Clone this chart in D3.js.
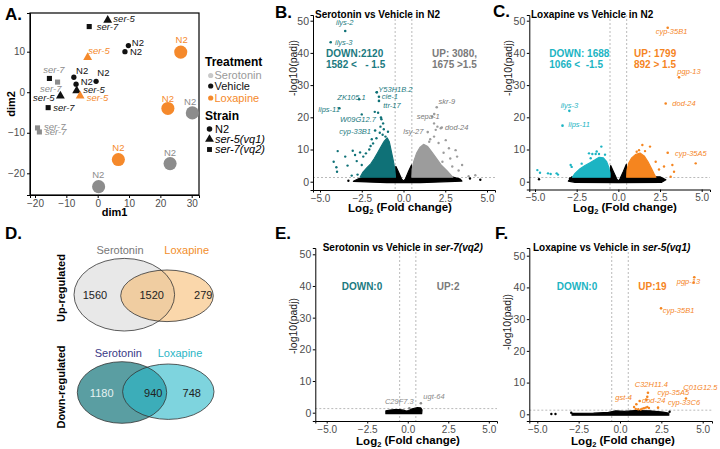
<!DOCTYPE html>
<html>
<head>
<meta charset="utf-8">
<script src="https://cdn.jsdelivr.net/npm/d3@7"></script>
<style>
    body { margin:0; background:#fff; }
    svg  { display:block; font-family:"Liberation Sans", Arial, sans-serif; }
</style>
</head>
<body>
<svg id="fig" width="720" height="449"></svg>
<script>
(function( w ) {

"use strict";

/* ---------- A. PCA ---------- */
var pcaSamples = [
        /* dim1, dim2, treatment, strain */
        [  3.2,  17.8, "Vehicle",   "ser-5" ],
        [ -2.7,  16.2, "Vehicle",   "ser-7" ],
        [  9.8,  11.5, "Vehicle",   "N2"    ],
        [  8.7,  10.0, "Vehicle",   "N2"    ],
        [ -3.2,   8.6, "Loxapine",  "ser-5" ],
        [-15.4,   3.4, "Vehicle",   "ser-7" ],
        [-12.8,   2.5, "Serotonin", "ser-7" ],
        [ -7.6,   3.7, "Vehicle",   "N2"    ],
        [ -6.9,   2.0, "Vehicle",   "N2"    ],
        [ -0.5,   2.7, "Vehicle",   "N2"    ],
        [ -6.7,   0.4, "Vehicle",   "ser-5" ],
        [-11.9,  -0.9, "Vehicle",   "ser-5" ],
        [ -5.6,  -0.9, "Loxapine",  "ser-5" ],
        [-15.8,  -3.8, "Vehicle",   "ser-7" ],
        [-19.2,  -8.8, "Serotonin", "ser-7" ],
        [-18.6,  -9.8, "Serotonin", "ser-7" ],
        [ 26.5,   9.9, "Loxapine",  "N2"    ],
        [ 22.4,  -4.0, "Loxapine",  "N2"    ],
        [ 30.2,  -5.1, "Serotonin", "N2"    ],
        [  6.6, -16.6, "Loxapine",  "N2"    ],
        [ 23.1, -17.6, "Serotonin", "N2"    ],
        [  0.3, -23.3, "Serotonin", "N2"    ]
    ],
    pcaLabels = [
        /* text, dim1, dim2, treatment */
        [ "ser-5",   5.0,  18.1, "Vehicle"   ],
        [ "ser-7",  -0.3,  16.2, "Vehicle"   ],
        [ "N2",     10.9,  12.2, "Vehicle"   ],
        [ "N2",     10.3,  10.0, "Vehicle"   ],
        [ "ser-5",  -3.0,  10.2, "Loxapine"  ],
        [ "N2",     26.8,  12.9, "Loxapine"  ],
        [ "ser-7", -17.4,   5.5, "Serotonin" ],
        [ "N2",     -6.9,   5.3, "Vehicle"   ],
        [ "N2",     -0.1,   4.8, "Vehicle"   ],
        [ "N2",     -5.4,   2.7, "Vehicle"   ],
        [ "ser-7", -18.4,   1.0, "Serotonin" ],
        [ "ser-5",  -4.6,   0.7, "Vehicle"   ],
        [ "ser-5", -20.6,  -1.3, "Vehicle"   ],
        [ "ser-5",  -3.5,  -1.3, "Loxapine"  ],
        [ "ser-7", -14.2,  -3.8, "Vehicle"   ],
        [ "ser-7", -17.1,  -8.4, "Serotonin" ],
        [ "ser-7", -16.8,  -9.8, "Serotonin" ],
        [ "N2",     22.4,  -1.5, "Loxapine"  ],
        [ "N2",     29.5,  -2.4, "Serotonin" ],
        [ "N2",      6.6, -13.7, "Loxapine"  ],
        [ "N2",     23.1, -15.0, "Serotonin" ],
        [ "N2",      0.2, -20.4, "Serotonin" ]
    ],
    pcaXTicks = [ -20, -10, 0, 10, 20, 30 ],
    pcaYTicks = [ -20, -10, 0, 10 ],
    treatments = [ "Serotonin", "Vehicle", "Loxapine" ],
    strains = [ "N2", "ser-5", "ser-7" ],
    strainNames = [ "N2", "ser-5(vq1)", "ser-7(vq2)" ],

/* ---------- D. Venn ---------- */
    vennSets = [ "Serotonin", "Loxapine" ],
    vennUp = [ 1560, 1520, 279 ],      // sero only, both, lox only
    vennDown = [ 1180, 940, 748 ],

/* ---------- volcano shared ---------- */
    fcTicks = [ -5, -2.5, 0, 2.5, 5 ],
    padjTicks = [ 0, 10, 20, 30, 40, 50 ],
    fcCut = 0.5,
    padjCut = 1.3,

/* ---------- B. Serotonin vs Vehicle in N2 ---------- */
    bDownCloud = [[-2.6,1.4],[-2.45,2.8],[-2.2,4.3],[-1.95,5.6],[-1.75,7.2],[-1.55,9],[-1.35,10.8],
                  [-1.15,12.6],[-0.98,13.6],[-0.85,12.4],[-0.72,9.2],[-0.6,6.2],[-0.52,3.8],[-0.48,1.4]],
    bUpCloud = [[0.5,1.4],[0.52,3.8],[0.62,6.4],[0.78,8.8],[0.98,10.6],[1.2,11.6],[1.45,10.9],
                [1.7,9.2],[1.95,7.4],[2.25,5.2],[2.6,3.4],[2.95,1.4]],
    bNsCloud = [[-3.0,0.1],[-2.7,0.9],[-2.3,1.5],[-0.5,1.6],[-0.46,4.8],[-0.3,3.0],[-0.12,0.9],[0,0.15],
                [0.12,0.9],[0.3,3.2],[0.48,5.2],[0.52,1.6],[2.9,1.5],[3.4,0.8],[3.5,0.2],[1.0,-0.3],[-1.0,-0.3]],
    bDownPts = [[-4.18,6.2],[-4.02,4.5],[-3.98,3.1],[-3.94,9.5],[-3.49,7.8],[-3.35,5.0],[-3.04,9.6],[-2.9,8.3],
                [-2.8,6.4],[-2.6,9.1],[-2.5,5.2],[-2.41,7.8],[-2.25,8.8],[-2.05,10],[-1.97,11.1],[-1.82,11.9],
                [-1.62,13.5],[-1.42,15.2],[-1.38,17.1],[-2.5,20.9],[-1.72,21.7],[-1.52,21.4],[-1.32,19.4],
                [-1.22,18.1],[-1.08,14],[-0.93,15.5],[-1.18,16.3],[-2.2,3.2],[-2.75,2.2],[-3.1,1.9],
                [-1.9,13.2],[-1.25,14.6],[-1.6,27.8]],
    bUpPts = [[1.54,12.4],[1.83,14],[1.93,16.1],[2.03,17.1],[1.83,18.1],[2.23,16.6],[2.53,12.9],[2.72,10.4],
              [3.12,9.8],[3.21,7.8],[3.51,5.2],[2.33,6.2],[2.92,4.7],[1.73,20.2],[1.6,13.2],[2.1,12],
              [2.4,9],[3.3,3.5],[2.8,7.2],[4.3,2.0],[3.9,1.7]],
    bNsPts = [[3.98,1.0],[4.6,0.6],[-3.3,0.3]],
    bGenes = [
        /* gene, log2fc, -log10padj, label x, label y, direction */
        [ "ilys-2",   -3.49, 46.8, -4.04, 48.7, "down" ],
        [ "ilys-3",   -4.36, 43.3, -4.10, 42.5, "down" ],
        [ "Y53H1B.2", -1.60, 27.8, -1.51, 27.9, "down" ],
        [ "cie-1",    -1.47, 26.4, -1.30, 25.7, "down" ],
        [ "ttr-17",   -1.47, 25.1, -1.21, 22.9, "down" ],
        [ "ZK105.1",  -2.66, 25.6, -3.96, 25.4, "down" ],
        [ "lips-11",  -3.84, 22.8, -5.10, 21.7, "down" ],
        [ "W09G12.7", -1.35, 19.9, -3.80, 18.6, "down" ],
        [ "cyp-33B1", -1.70, 15.9, -3.84, 14.8, "down" ],
        [ "skr-9",     1.99, 23.1,  2.10, 24.2, "up" ],
        [ "sepa-1",    1.84, 21.0,  0.79, 19.5, "up" ],
        [ "dod-24",    2.29, 16.8,  2.49, 16.1, "up" ],
        [ "lsy-27",    1.45, 15.4, -0.01, 14.8, "up" ]
    ],
    bCounts = [ [ "DOWN:2120", "1582 <   - 1.5" ], [ "UP: 3080,", "1675 >1.5" ] ],

/* ---------- C. Loxapine vs Vehicle in N2 ---------- */
    cDownCloud = [[-2.75,1.4],[-2.6,2.6],[-2.3,4.0],[-2.0,5.0],[-1.7,5.9],[-1.4,6.8],[-1.15,7.6],
                  [-0.9,7.4],[-0.7,6.2],[-0.58,4.6],[-0.5,2.6],[-0.5,1.4]],
    cUpCloud = [[0.5,1.4],[0.52,3.6],[0.62,5.8],[0.8,7.4],[1.02,8.4],[1.3,8.9],[1.55,8.0],[1.78,6.2],
                [1.98,4.2],[2.15,2.4],[2.25,1.4]],
    cNsCloud = [[-3.0,0.2],[-2.8,1.5],[-0.5,1.6],[-0.46,5.0],[-0.3,3.2],[-0.1,0.9],[0,0.2],[0.1,0.9],
                [0.3,3.2],[0.48,5.4],[0.52,1.6],[2.5,1.5],[2.85,0.6],[2.6,-0.2],[0,-0.3],[-2.6,-0.2]],
    cDownPts = [[-4.86,3.6],[-4.7,2.8],[-4.22,2.6],[-4.06,2.4],[-3.7,2.6],[-3.62,2.2],[-2.86,5.2],[-2.8,4.6],
                [-1.76,8.8],[-1.56,8.6],[-1.36,8.6],[-1.16,8.6],[-1.02,10.9],[-1.66,7.3],[-2.2,5.6],
                [-0.8,8.4],[-1.3,9.4]],
    cUpPts = [[1.44,11.4],[1.9,10.9],[4.64,5.7],[3.24,5.2],[2.74,4.7],[3.14,1.55],[3.34,3.1],[2.44,3.8],
              [2.24,6.2],[1.24,9.8],[1.1,9.3],[1.6,9.5]],
    cNsPts = [[-4.76,0.75],[-2.9,1.0]],
    cGenes = [
        [ "cyp-35B1",  2.96, 47.8,  2.24, 45.9, "up" ],
        [ "pgp-13",    3.64, 32.4,  3.54, 33.5, "up" ],
        [ "dod-24",    2.84, 24.3,  3.24, 23.5, "up" ],
        [ "cyp-35A5",  2.96,  9.0,  3.40,  8.0, "up" ],
        [ "ilys-3",   -2.94, 22.0, -3.46, 22.9, "down" ],
        [ "lips-11",  -3.35, 17.4, -3.00, 17.0, "down" ]
    ],
    cCounts = [ [ "DOWN: 1688", "1066 <  -1.5" ], [ "UP: 1799", "892 > 1.5" ] ],

/* ---------- E. Serotonin vs Vehicle in ser-7(vq2) ---------- */
    eNsCloud = [[-1.35,-0.3],[-1.35,0.6],[-1.1,0.85],[-0.8,1.0],[-0.5,0.95],[-0.25,0.8],[-0.1,0.5],
                [0.05,0.7],[0.2,1.1],[0.4,1.4],[0.6,1.6],[0.8,1.5],[0.88,0.9],[0.86,-0.3]],
    eGenes = [
        [ "ugt-64",  0.81, 2.97,  0.96, 4.3, "up" ],
        [ "C29F7.3", 0.10, 1.40, -1.41, 2.75, "up" ]
    ],
    eCounts = [ [ "DOWN:0" ], [ "UP:2" ] ],

/* ---------- F. Loxapine vs Vehicle in ser-5(vq1) ---------- */
    fNsCloud = [[-2.9,-0.3],[-2.9,0.3],[-1.6,0.35],[-0.7,0.6],[-0.25,1.1],[0.25,0.9],[0.9,1.2],
                [1.8,1.1],[2.6,0.7],[2.95,0.35],[2.95,-0.3]],
    fNsPts = [[-4.15,0.1],[-3.9,0.1],[3.0,0.8],[-2.95,0.5]],
    fUpPts = [[0.85,2.3],[0.95,1.7],[1.1,1.6],[1.25,1.5],[1.35,1.8],[1.45,1.9],[1.55,2.1],[1.65,2.3],
              [1.75,2.0],[1.6,4.6],[4.45,41.6]],
    fGenes = [
        [ "pgp-13",   4.49, 43.2, 3.43, 41.1, "up" ],
        [ "cyp-35B1", 2.48, 33.4, 2.58, 31.8, "up" ],
        [ "C01G12.5", 3.99,  5.0, 3.83,  7.7, "up" ],
        [ "C32H11.4", 1.69,  6.8, 0.89,  8.7, "up" ],
        [ "cyp-35A5", 1.65,  5.5, 2.26,  6.1, "up" ],
        [ "dod-24",   1.19,  4.2, 1.33,  3.5, "up" ],
        [ "cyp-33C6", 2.30,  2.1, 2.90,  2.9, "up" ],
        [ "gst-4",    0.99,  3.15, -0.28, 4.5, "up" ]
    ],
    fCounts = [ [ "DOWN:0" ], [ "UP:19" ] ],

    /* private */
    _svg, _d,
    _styleAxis, _panelLetter, _drawPca, _drawVenn, _drawVolcano;

/* Default styles */
_d = {
    ink : "#111",
    tick : "#4d4d4d",
    treatColor : { Serotonin : "#8c8c8c", Vehicle : "#111", Loxapine : "#f5892b" },
    legendSero : "#c9c9c9",
    teal : "#0f7177",
    tealText : "#1b7a80",
    cyan : "#1cb4c3",
    orange : "#f5851f",
    upGrey : "#9c9c9c",
    upGreyText : "#7a7a7a",
    dash : "#a8a8a8",
    geneSize : "7.5px"
};

/* _styleAxis
 * ggplot classic look for a d3 axis group
 */
_styleAxis = function( g, fs ) {
    g.attr("font-family", null).attr("font-size", null);
    g.select(".domain").attr("stroke", "#000").attr("stroke-width", 1);
    g.selectAll(".tick line").attr("stroke", "#000");
    g.selectAll(".tick text").attr("fill", _d.tick).style("font-size", (fs || 10) + "px");
};

_panelLetter = function( txt, x, y ) {
    _svg.append("text").attr("x", x).attr("y", y)
        .style("font-size", "17px").style("font-weight", "bold").attr("fill", "#000")
        .text( txt );
};

/* _drawPca
 * panel A, sample map with legend
 */
_drawPca = function( ) {
    var L = { left : 30, right : 199, top : 13, bottom : 195 },
        x = d3.scaleLinear().domain([ -20, 30 ]).range([ 35, 191.7 ]),
        y = d3.scaleLinear().domain([ -20, 10 ]).range([ 173.3, 51.7 ]),
        g = _svg.append("g"),
        shape = { "N2" : d3.symbolCircle, "ser-5" : d3.symbolTriangle, "ser-7" : d3.symbolSquare },
        lg, i;

    x.domain([ x.invert(L.left), x.invert(L.right) ]).range([ L.left, L.right ]);
    y.domain([ y.invert(L.bottom), y.invert(L.top) ]).range([ L.bottom, L.top ]);

    g.append("g").attr("transform", "translate(0," + L.bottom + ")")
        .call( d3.axisBottom(x).tickValues(pcaXTicks).tickSize(3).tickPadding(2) )
        .call( _styleAxis, 10 );
    g.append("g").attr("transform", "translate(" + L.left + ",0)")
        .call( d3.axisLeft(y).tickValues(pcaYTicks).tickSize(3).tickPadding(2) )
        .call( _styleAxis, 10 );
    g.append("rect").attr("x", L.left).attr("y", L.top)
        .attr("width", L.right - L.left).attr("height", L.bottom - L.top)
        .attr("fill", "none").attr("stroke", "#000").attr("stroke-width", 1.2);

    g.selectAll("path.pt").data( pcaSamples ).join("path")
        .attr("class", "pt")
        .attr("transform", function( d ){ return "translate(" + x(d[0]) + "," + y(d[1]) + ")"; })
        .attr("d", function( d ){
            var big = d[3] === "N2" && d[2] !== "Vehicle",
                size = big ? 135 : ( d[3] === "ser-5" ? 34 : ( d[3] === "ser-7" ? 26 : 22 ) );
            return d3.symbol().type( shape[d[3]] ).size( size )( );
        })
        .attr("fill", function( d ){ return _d.treatColor[d[2]]; });

    g.selectAll("text.lab").data( pcaLabels ).join("text")
        .attr("class", "lab")
        .attr("x", function( d ){ return x(d[1]); })
        .attr("y", function( d ){ return y(d[2]); })
        .attr("dy", "0.35em")
        .attr("text-anchor", function( d ){ return ( d[0] === "N2" && d[3] !== "Vehicle" ) ? "middle" : "start"; })
        .style("font-size", "9.5px")
        .style("font-style", function( d ){ return d[0] === "N2" ? "normal" : "italic"; })
        .attr("fill", function( d ){ return _d.treatColor[d[3]]; })
        .text(function( d ){ return d[0]; });

    g.append("text").attr("x", (L.left + L.right) / 2).attr("y", 216)
        .attr("text-anchor", "middle").style("font-size", "11px").style("font-weight", "bold").text("dim1");
    g.append("text").attr("transform", "translate(15," + ((L.top + L.bottom) / 2) + ") rotate(-90)")
        .attr("text-anchor", "middle").style("font-size", "11px").style("font-weight", "bold").text("dim2");

    /* legend */
    lg = _svg.append("g");
    lg.append("text").attr("x", 205).attr("y", 66).style("font-size", "12px").style("font-weight", "bold").text("Treatment");
    for( i = 0; i < treatments.length; i++ ){
        var ty = [ 75.5, 86, 98 ][i];
        lg.append("circle").attr("cx", 210.7).attr("cy", ty).attr("r", 2.6)
            .attr("fill", i === 0 ? _d.legendSero : _d.treatColor[treatments[i]]);
        lg.append("text").attr("x", 214.5).attr("y", ty).attr("dy", "0.36em")
            .style("font-size", "11px")
            .attr("fill", i === 0 ? "#9a9a9a" : _d.treatColor[treatments[i]])
            .text( treatments[i] );
    }
    lg.append("text").attr("x", 205).attr("y", 120).style("font-size", "12px").style("font-weight", "bold").text("Strain");
    for( i = 0; i < strains.length; i++ ){
        var sy = [ 129, 139.3, 149.5 ][i];
        lg.append("path").attr("transform", "translate(209.5," + sy + ")")
            .attr("d", d3.symbol().type( shape[strains[i]] ).size( i === 1 ? 34 : 24 )( ))
            .attr("fill", "#111");
        lg.append("text").attr("x", 215).attr("y", sy).attr("dy", "0.36em")
            .style("font-size", "11px").style("font-style", i === 0 ? "normal" : "italic")
            .text( strainNames[i] );
    }
};

/* _drawVenn
 * panel D, two overlapping ellipse diagrams
 */
_drawVenn = function( ) {
    var g = _svg.append("g"),
        rows = [
            { counts : vennUp, cy : 295, title : "Up-regulated", ty : 288,
              e : [ [124.3, 294.7, 50.3, 36.3], [167, 295.8, 46.3, 25.8] ],
              fill : [ "#e8e8e8", "#f5b766" ], op : [ 1, 0.55 ],
              setCol : [ "#777", "#f28e2b" ], setY : 254,
              cx : [ 95, 151.7, 203.3 ], numCol : [ "#222", "#222", "#222" ] },
            { counts : vennDown, cy : 392.7, title : "Down-regulated", ty : 387,
              e : [ [122, 392.5, 44.7, 30.8], [168.3, 391.7, 45.7, 27.7] ],
              fill : [ "#5a9ea2", "#28b8c8" ], op : [ 1, 0.6 ],
              setCol : [ "#3a3a86", "#2bb5c5" ], setY : 356.5,
              cx : [ 101.7, 153.3, 191.7 ], numCol : [ "#e6f2f2", "#222", "#222" ] }
        ],
        setX = [ [ 120, 186.7 ], [ 118.3, 180 ] ];

    rows.forEach(function( r, ri ){
        r.e.forEach(function( e, k ){
            g.append("ellipse").attr("cx", e[0]).attr("cy", e[1]).attr("rx", e[2]).attr("ry", e[3])
                .attr("fill", r.fill[k]).attr("fill-opacity", r.op[k]);
        });
        r.e.forEach(function( e ){
            g.append("ellipse").attr("cx", e[0]).attr("cy", e[1]).attr("rx", e[2]).attr("ry", e[3])
                .attr("fill", "none").attr("stroke", "#333").attr("stroke-width", 0.8);
        });
        vennSets.forEach(function( s, k ){
            g.append("text").attr("x", setX[ri][k]).attr("y", r.setY).attr("text-anchor", "middle")
                .style("font-size", "11px").attr("fill", r.setCol[k]).text( s );
        });
        r.counts.forEach(function( c, k ){
            g.append("text").attr("x", r.cx[k]).attr("y", r.cy).attr("dy", "0.36em")
                .attr("text-anchor", "middle").style("font-size", "11px")
                .attr("fill", r.numCol[k]).text( c );
        });
        g.append("text").attr("transform", "translate(65," + r.ty + ") rotate(-90)")
            .attr("text-anchor", "middle").style("font-size", "11px").style("font-weight", "bold")
            .text( r.title );
    });
};

/* _drawVolcano
 * one volcano panel from its arrays and frame
 */
_drawVolcano = function( P ) {
    var g = _svg.append("g"),
        x = d3.scaleLinear().domain([ -5, 5 ]).range([ P.xa, P.xb ]),
        y = d3.scaleLinear().domain([ 0, 50 ]).range([ P.y0, P.y50 ]),
        area = d3.line().x(function( d ){ return x(d[0]); }).y(function( d ){ return y(d[1]); })
                 .curve( d3.curveLinearClosed ),
        clouds, dots, t;

    x.domain([ x.invert(P.left), x.invert(P.right) ]).range([ P.left, P.right ]);
    y.domain([ y.invert(P.bottom), y.invert(P.top) ]).range([ P.bottom, P.top ]);

    /* threshold lines */
    [ -fcCut, fcCut ].forEach(function( v ){
        g.append("line").attr("x1", x(v)).attr("x2", x(v)).attr("y1", P.top).attr("y2", P.bottom)
            .attr("stroke", _d.dash).attr("stroke-width", 0.8).attr("stroke-dasharray", "2,2");
    });
    g.append("line").attr("x1", P.left).attr("x2", P.right).attr("y1", y(padjCut)).attr("y2", y(padjCut))
        .attr("stroke", _d.dash).attr("stroke-width", 0.8).attr("stroke-dasharray", "2,2");

    /* dense clouds */
    clouds = [ [ P.nsCloud, "#000" ], [ P.downCloud, P.downCol ], [ P.upCloud, P.upCol ] ];
    clouds.forEach(function( c ){
        if( !c[0] ){ return; }
        g.append("path").attr("d", area( c[0] )).attr("fill", c[1])
            .attr("stroke", c[1]).attr("stroke-width", 1.2).attr("stroke-linejoin", "round");
    });

    /* single genes */
    dots = [ [ P.nsPts, "#000" ], [ P.downPts, P.downCol ], [ P.upPts, P.upCol ] ];
    dots.forEach(function( s ){
        g.selectAll(null).data( s[0] || [] ).join("circle")
            .attr("cx", function( d ){ return x(d[0]); })
            .attr("cy", function( d ){ return y(d[1]); })
            .attr("r", 1.2).attr("fill", s[1]);
    });
    g.selectAll(null).data( P.genes ).join("circle")
        .attr("cx", function( d ){ return x(d[1]); })
        .attr("cy", function( d ){ return y(d[2]); })
        .attr("r", 1.3)
        .attr("fill", function( d ){ return d[5] === "up" ? P.upCol : P.downCol; });
    g.selectAll(null).data( P.genes ).join("text")
        .attr("x", function( d ){ return x(d[3]); })
        .attr("y", function( d ){ return y(d[4]); })
        .style("font-size", _d.geneSize).style("font-style", "italic")
        .attr("fill", function( d ){ return d[5] === "up" ? P.upText : P.downText; })
        .text(function( d ){ return d[0]; });

    /* count annotations */
    [ 0, 1 ].forEach(function( k ){
        P.counts[k].forEach(function( line, j ){
            g.append("text").attr("x", P.countX[k]).attr("y", P.countY + j * 10.5)
                .style("font-size", "10px").style("font-weight", "bold").style("white-space", "pre")
                .attr("fill", k === 0 ? P.downText : P.countUp)
                .text( line );
        });
    });

    /* axes */
    g.append("g").attr("transform", "translate(0," + P.bottom + ")")
        .call( d3.axisBottom(x).tickValues(fcTicks).tickFormat(d3.format(".1f")).tickSize(2.5).tickPadding(2) )
        .call( _styleAxis, 10 );
    g.append("g").attr("transform", "translate(" + P.left + ",0)")
        .call( d3.axisLeft(y).tickValues(padjTicks).tickSize(2.5).tickPadding(1.5) )
        .call( _styleAxis, 10.5 );

    /* titles */
    t = g.append("text").attr("x", P.titleX).attr("y", P.titleY)
        .style("font-size", "10px").style("font-weight", "bold");
    t.append("tspan").text( P.title[0] );
    if( P.title[1] ){ t.append("tspan").style("font-style", "italic").text( P.title[1] ); }

    t = g.append("text").attr("x", P.xTitleX).attr("y", P.xTitleY).attr("text-anchor", "middle")
        .style("font-size", "11.5px").style("font-weight", "bold");
    t.append("tspan").text("Log");
    t.append("tspan").attr("dy", "0.25em").style("font-size", "7.5px").text("2");
    t.append("tspan").attr("dy", "-0.25em").text(" (Fold change)");

    g.append("text").attr("transform", "translate(" + P.yTitleX + "," + P.yTitleY + ") rotate(-90)")
        .attr("text-anchor", "middle").style("font-size", "10.5px").attr("fill", "#222")
        .text("-log10(padj)");

    _panelLetter( P.letter, P.letterX, P.letterY );
};

/* ---------- build ---------- */
_svg = d3.select("#fig");
_svg.append("rect").attr("width", 720).attr("height", 449).attr("fill", "#fff");

_panelLetter( "A.", 5, 19.5 );
_drawPca( );

_panelLetter( "D.", 5, 239 );
_drawVenn( );

_drawVolcano({
    letter : "B.", letterX : 275, letterY : 17.5,
    left : 313, right : 495, top : 15, bottom : 190,
    xa : 320, xb : 487, y0 : 181.7, y50 : 20.7,
    title : [ "Serotonin vs Vehicle in N2" ], titleX : 315, titleY : 17.5,
    xTitleX : 400, xTitleY : 212, yTitleX : 297, yTitleY : 68,
    nsCloud : bNsCloud, downCloud : bDownCloud, upCloud : bUpCloud,
    nsPts : bNsPts, downPts : bDownPts, upPts : bUpPts, genes : bGenes,
    downCol : _d.teal, upCol : _d.upGrey, downText : _d.tealText, upText : _d.upGreyText,
    countUp : _d.upGreyText, counts : bCounts, countX : [ 326, 432 ], countY : 57
});

_drawVolcano({
    letter : "C.", letterX : 493, letterY : 17,
    left : 529.3, right : 710, top : 15, bottom : 189.5,
    xa : 535, xb : 701.7, y0 : 181.7, y50 : 20.7,
    title : [ "Loxapine vs Vehicle in N2" ], titleX : 531, titleY : 17.5,
    xTitleX : 625, xTitleY : 212, yTitleX : 512, yTitleY : 68,
    nsCloud : cNsCloud, downCloud : cDownCloud, upCloud : cUpCloud,
    nsPts : cNsPts, downPts : cDownPts, upPts : cUpPts, genes : cGenes,
    downCol : _d.cyan, upCol : _d.orange, downText : _d.cyan, upText : _d.orange,
    countUp : _d.orange, counts : cCounts, countX : [ 549.3, 634 ], countY : 57
});

_drawVolcano({
    letter : "E.", letterX : 275, letterY : 239,
    left : 315.3, right : 497, top : 248, bottom : 421,
    xa : 326.7, xb : 488.8, y0 : 412.7, y50 : 254.3,
    title : [ "Serotonin vs Vehicle in ", "ser-7(vq2)" ], titleX : 322.7, titleY : 250.5,
    xTitleX : 408, xTitleY : 445, yTitleX : 297, yTitleY : 326,
    nsCloud : eNsCloud, genes : eGenes,
    downCol : _d.teal, upCol : "#8a8a8a", downText : _d.tealText, upText : "#8a8a8a",
    countUp : _d.upGreyText, counts : eCounts, countX : [ 341.7, 436.7 ], countY : 290
});

_drawVolcano({
    letter : "F.", letterX : 495, letterY : 239,
    left : 529.3, right : 712, top : 248, bottom : 421,
    xa : 537.3, xb : 702.7, y0 : 414.3, y50 : 255.7,
    title : [ "Loxapine vs Vehicle in ", "ser-5(vq1)" ], titleX : 533, titleY : 250.5,
    xTitleX : 623, xTitleY : 445, yTitleX : 511, yTitleY : 322,
    nsCloud : fNsCloud, nsPts : fNsPts, upPts : fUpPts, genes : fGenes,
    downCol : _d.cyan, upCol : _d.orange, downText : _d.cyan, upText : _d.orange,
    countUp : _d.orange, counts : fCounts, countX : [ 556.7, 638.3 ], countY : 290
});

})( window );
</script>
</body>
</html>
